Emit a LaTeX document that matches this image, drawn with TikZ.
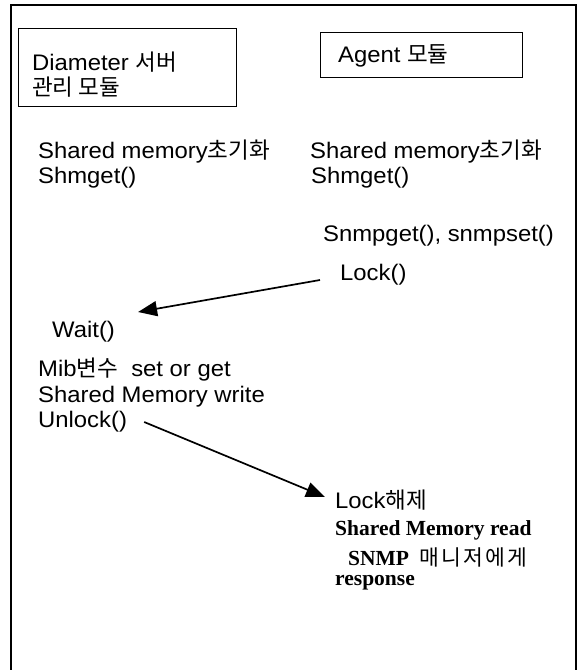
\documentclass[tikz,border=0pt]{standalone}
\usepackage{fontspec}
\setmainfont{Liberation Sans}[FakeStretch=1.06]
\newfontfamily\kr{Noto Sans CJK KR}
\newfontfamily\krw{Noto Sans CJK KR}[LetterSpace=10]
\newfontfamily\tms{Liberation Serif}
\usetikzlibrary{arrows.meta,positioning}

\begin{document}
\begin{tikzpicture}[x=1pt, y=-1pt,
  txt/.style={anchor=west, inner sep=0pt, align=left, font=\fontsize{22.5}{25}\selectfont},
  stxt/.style={txt, font=\fontsize{21.5}{25}\selectfont\tms\bfseries},
  modbox/.style={draw, line width=1.2pt, anchor=north west, inner sep=0pt},
  flow/.style={line width=1.7pt, -{Triangle[length=19pt, width=15pt]}}]
\useasboundingbox (0,0) rectangle (583,670);

% Outer frame (open at the bottom)
\draw[line width=1.4pt] (11,670) -- (11,5) -- (576,5) -- (576,670);

% Module boxes
\node[modbox, minimum width=218pt, minimum height=78pt] (diambox) at (18,28) {};
\node[modbox, minimum width=202pt, minimum height=45pt] (agentbox) at (320,32) {};
\node[txt] (diam) at (32,75) {Diameter {\kr 서버}\\{\kr 관리 모듈}};
\node[txt] (agent) at (338,56) {Agent {\kr 모듈}};

% Diameter side
\node[txt] (dinit) at (38,152) {Shared memory{\kr 초기화}};
\node[txt] (dget) at (38,178) {Shmget()};
\node[txt] (wait) at (52,332) {Wait()};
\node[txt] (mib) at (38,370) {Mib{\kr 변수}\ \ set or get};
\node[txt] (write) at (38,397) {Shared Memory write};
\node[txt] (unlock) at (38,422) {Unlock()};

% Agent side
\node[txt] (ainit) at (310,152) {Shared memory{\kr 초기화}};
\node[txt] (aget) at (311,178) {Shmget()};
\node[txt] (snmp) at (323,236) {Snmpget(), snmpset()};
\node[txt] (lock) at (340,275) {Lock()};
\node[txt] (lockoff) at (335,500) {Lock{\kr 해제}};
\node[stxt] (read) at (335,530) {Shared Memory read};
\node[stxt] (mgr) at (348,557) {SNMP\ \ {\mdseries\krw 매니저에게}};
\node[stxt] (resp) at (335,583) {response};

% Messages
\draw[flow] ([xshift=-20pt, yshift=-5pt]lock.west) -- ([xshift=23pt, yshift=20pt]wait.east);
\draw[flow] ([xshift=17pt]unlock.east) -- ([xshift=-10pt, yshift=3pt]lockoff.west);
\end{tikzpicture}
\end{document}
